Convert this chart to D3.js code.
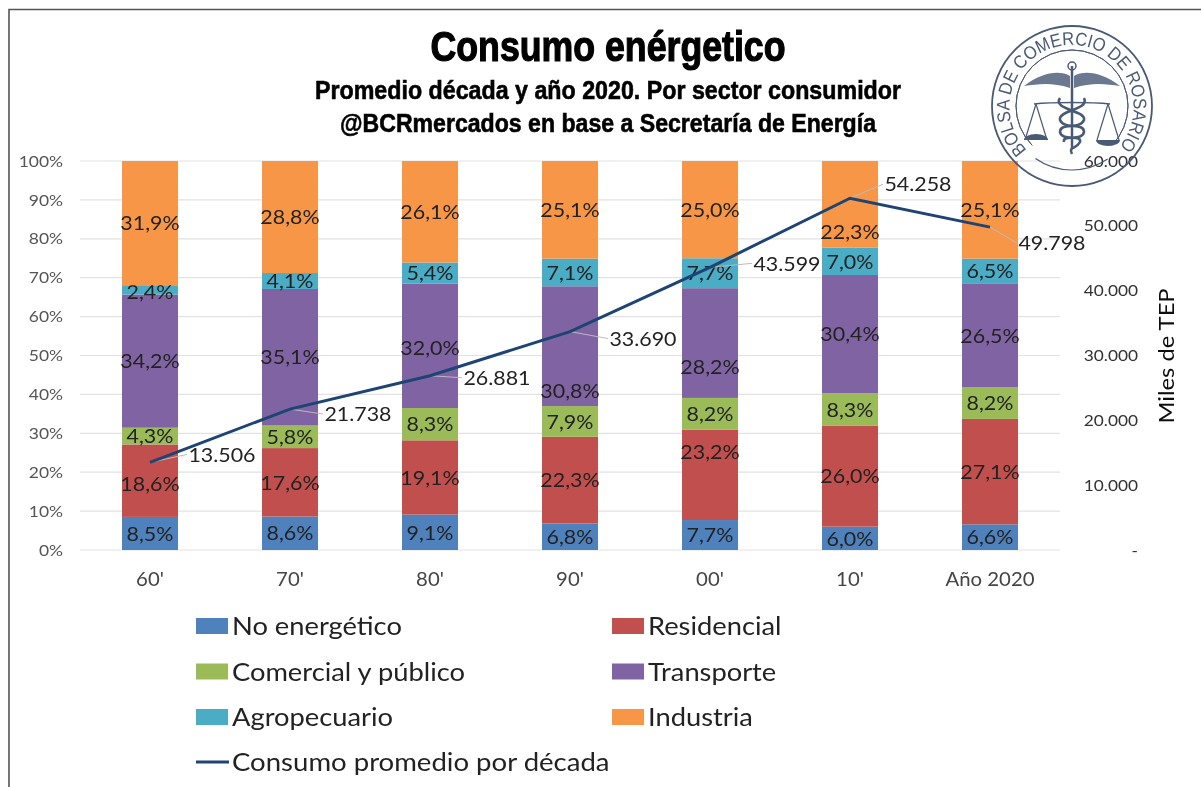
<!DOCTYPE html>
<html><head><meta charset="utf-8">
<script src="https://cdn.jsdelivr.net/npm/d3@7"></script>
<style>
html,body{margin:0;padding:0;background:#fff;overflow:hidden}
svg{display:block}
text{font-family:Lato,"Open Sans",sans-serif}
</style></head><body><svg id="c" width="1201" height="787"></svg>
<script>
const categories=["60'","70'","80'","90'","00'","10'","Año 2020"];
const seriesNames=["No energético","Residencial","Comercial y público","Transporte","Agropecuario","Industria"];
const seriesColors=["#4f81bd","#c0504d","#9bbb59","#8064a2","#4bacc6","#f79646"];
const noEnergetico=[8.5,8.6,9.1,6.8,7.7,6.0,6.6];
const residencial=[18.6,17.6,19.1,22.3,23.2,26.0,27.1];
const comercial=[4.3,5.8,8.3,7.9,8.2,8.3,8.2];
const transporte=[34.2,35.1,32.0,30.8,28.2,30.4,26.5];
const agropecuario=[2.4,4.1,5.4,7.1,7.7,7.0,6.5];
const industria=[31.9,28.8,26.1,25.1,25.0,22.3,25.1];
const consumo=[13506,21738,26881,33690,43599,54258,49798];
const lineName="Consumo promedio por década";
const pctTicks=[0,10,20,30,40,50,60,70,80,90,100];
const rightTicks=[0,10000,20000,30000,40000,50000,60000];
const allSeries=[noEnergetico,residencial,comercial,transporte,agropecuario,industria];

const es=n=>n===0?"-":d3.format(",")(n).replace(/,/g,".");
const pct=v=>v.toFixed(1).replace(".",",")+"%";
// stretch a text horizontally (the original face is wider than the installed one)
const widen=(sel,f)=>sel.each(function(){
  this.setAttribute("textLength",this.getComputedTextLength()*f);
  this.setAttribute("lengthAdjust","spacingAndGlyphs");
});
const svg=d3.select("#c");
const defs=svg.append("defs");
defs.append("filter").attr("id","soft").attr("x","-5%").attr("y","-5%").attr("width","110%").attr("height","110%")
  .append("feGaussianBlur").attr("stdDeviation",0.55);
const root=svg.append("g").attr("filter","url(#soft)");

root.append("path").attr("d","M9,787V9.5H1201").attr("fill","none").attr("stroke","#555").attr("stroke-width",1.6);

const x=d3.scaleBand().domain(categories).range([80,1060]).paddingInner(0.6).paddingOuter(0.3);
const y=d3.scaleLinear().domain([0,100]).range([550,161]);
const yR=d3.scaleLinear().domain([0,60000]).range([550,161]);
const cx=c=>x(c)+x.bandwidth()/2;

root.append("g").selectAll("line").data(pctTicks).join("line")
  .attr("x1",80).attr("x2",1060).attr("y1",d=>y(d)).attr("y2",d=>y(d))
  .attr("stroke","#e2e2e2").attr("stroke-width",1.2);

root.append("g").selectAll("text").data(pctTicks).join("text")
  .attr("x",63).attr("y",d=>y(d)).attr("dy","0.35em").attr("text-anchor","end")
  .attr("font-size",16).attr("fill","#555").text(d=>d+"%").call(widen,1.09);
root.append("g").selectAll("text").data(rightTicks).join("text")
  .attr("x",1138).attr("y",d=>yR(d)).attr("dy","0.35em").attr("text-anchor","end")
  .attr("font-size",16).attr("fill","#333").text(es).call(widen,1.08);
root.append("text").attr("transform","translate(1174,356) rotate(-90)").attr("text-anchor","middle")
  .attr("font-size",21).attr("fill","#111").text("Miles de TEP").call(widen,1.13);
root.append("g").selectAll("text").data(categories).join("text")
  .attr("x",cx).attr("y",580).attr("dy","0.35em").attr("text-anchor","middle")
  .attr("font-size",18.5).attr("fill","#444").text(d=>d).call(widen,1.1);

const rows=categories.map((c,i)=>{const r={cat:c};seriesNames.forEach((s,k)=>r[s]=allSeries[k][i]);return r;});
const stacked=d3.stack().keys(seriesNames).offset(d3.stackOffsetExpand)(rows);
const gS=root.append("g").selectAll("g").data(stacked).join("g").attr("fill",(d,i)=>seriesColors[i]);
gS.selectAll("rect").data(d=>d).join("rect")
  .attr("x",d=>x(d.data.cat)).attr("width",x.bandwidth())
  .attr("y",d=>y(d[1]*100)).attr("height",d=>y(d[0]*100)-y(d[1]*100));

// line-label placement relative to each point
const labelDx=[72,68,67,73,77,68,62], labelDy=[-8,5,2,7,-4,-14,16];
root.append("g").selectAll("line").data(consumo).join("line")
  .attr("x1",(d,i)=>cx(categories[i])).attr("y1",d=>yR(d))
  .attr("x2",(d,i)=>cx(categories[i])+labelDx[i]-35).attr("y2",(d,i)=>yR(d)+labelDy[i])
  .attr("stroke","#bbb").attr("stroke-width",1);

// labels moved by hand in the original, [series, category, shift]
const moved=[[5,5,27],[3,3,45],[3,4,24],[1,4,-23],[1,0,3],[3,2,2],[4,0,2]];
const shift=(k,i)=>{const m=moved.find(a=>a[0]===k&&a[1]===i);return m?m[2]:0;};
gS.each(function(s,k){
  d3.select(this).selectAll("text").data(s).join("text")
    .attr("x",d=>cx(d.data.cat))
    .attr("y",(d,i)=>y((d[0]+d[1])*50)+shift(k,i)).attr("dy","0.36em")
    .attr("text-anchor","middle").attr("font-size",20).attr("fill","#222")
    .text((d,i)=>pct(allSeries[k][i])).call(widen,1.07);
});

root.append("path").datum(consumo)
  .attr("d",d3.line().x((d,i)=>cx(categories[i])).y(d=>yR(d)))
  .attr("fill","none").attr("stroke","#1f4474").attr("stroke-width",3);

root.append("g").selectAll("text").data(consumo).join("text")
  .attr("x",(d,i)=>cx(categories[i])+labelDx[i]).attr("y",(d,i)=>yR(d)+labelDy[i]).attr("dy","0.36em")
  .attr("text-anchor","middle").attr("font-size",20).attr("fill","#222").text(es).call(widen,1.07);

// legend
const lg=root.append("g");
seriesNames.forEach((n,i)=>{
  const X=i%2?612:196, Y=626+Math.floor(i/2)*45.5;
  lg.append("rect").attr("x",X).attr("y",Y-8).attr("width",32).attr("height",16).attr("fill",seriesColors[i]);
  lg.append("text").attr("x",X+36).attr("y",Y).attr("dy","0.36em").attr("font-size",25.5).attr("fill","#222").text(n).call(widen,1.07);
});
lg.append("line").attr("x1",196).attr("x2",229).attr("y1",762).attr("y2",762).attr("stroke","#1f4474").attr("stroke-width",3);
lg.append("text").attr("x",232).attr("y",762).attr("dy","0.36em").attr("font-size",25.5).attr("fill","#222").text(lineName).call(widen,1.08);

// titles
const tf='"Liberation Sans",sans-serif';
const title=(txt,yy,fs,w,sw)=>root.append("text").attr("x",608).attr("y",yy).attr("text-anchor","middle")
  .attr("font-size",fs).attr("font-weight",700).attr("fill","#000").attr("stroke","#000").attr("stroke-width",sw)
  .style("font-family",tf).text(txt).attr("textLength",w).attr("lengthAdjust","spacingAndGlyphs");
title("Consumo enérgetico",61,43,355,1.2);
title("Promedio década y año 2020. Por sector consumidor",99,26,586,.6);
title("@BCRmercados en base a Secretaría de Energía",132,26,536,.6);

// logo
const L=root.append("g").attr("transform","translate(1072,106)").attr("fill","none").attr("stroke","#4a5a75");
L.append("circle").attr("r",80).attr("stroke-width",1.8);
L.append("path").attr("stroke-width",1).attr("d",d3.arc()({innerRadius:56,outerRadius:56,startAngle:-2.35,endAngle:2.35}));
L.append("path").attr("stroke-width",1.2).attr("d",d3.arc()({innerRadius:64,outerRadius:64,startAngle:2.55,endAngle:3.75}));
defs.append("path").attr("id","arc").attr("d","M-45,44A62,62 0 1 1 50,37");
L.append("text").attr("fill","#4a5a75").attr("stroke","none").attr("font-size",18.5)
  .style("font-family",tf)
  .append("textPath").attr("href","#arc").attr("startOffset",0)
  .attr("textLength",285).attr("lengthAdjust","spacingAndGlyphs").text("BOLSA DE COMERCIO DE ROSARIO");
L.append("path").attr("fill","#6a7890").attr("stroke","none").attr("d","M-48,-20C-30,-34 -12,-36 -2,-30L-2,-18C-20,-24 -34,-22 -48,-20Z");
L.append("path").attr("fill","#6a7890").attr("stroke","none").attr("d","M48,-20C30,-34 12,-36 2,-30L2,-18C20,-24 34,-22 48,-20Z");
L.append("path").attr("stroke-width",2.5).attr("d","M0,-40V42");
L.append("circle").attr("cy",-40).attr("r",4).attr("stroke-width",1.5);
L.append("path").attr("stroke-width",1.5).attr("d","M-38,-2C-20,-4 20,-4 38,-2");
[-1,1].forEach(s=>{
  L.append("path").attr("stroke-width",1.2).attr("d",`M${s*36},-2L${s*47},34M${s*36},-2L${s*25},34`);
  L.append("path").attr("fill","#4a5a75").attr("stroke","none").attr("d",`M${s*48},34A12,6 0 0 1 ${s*24},34Z`);
});
L.append("path").attr("stroke-width",2.6).attr("d","M-12,-8C-20,4 14,4 12,14C8,24 -12,16 -12,26C-10,36 10,28 8,36C4,44 -4,40 0,48M12,-8C18,4 -14,4 -12,14C-8,24 12,16 12,26C10,36 -10,28 -8,36");
</script></body></html>
